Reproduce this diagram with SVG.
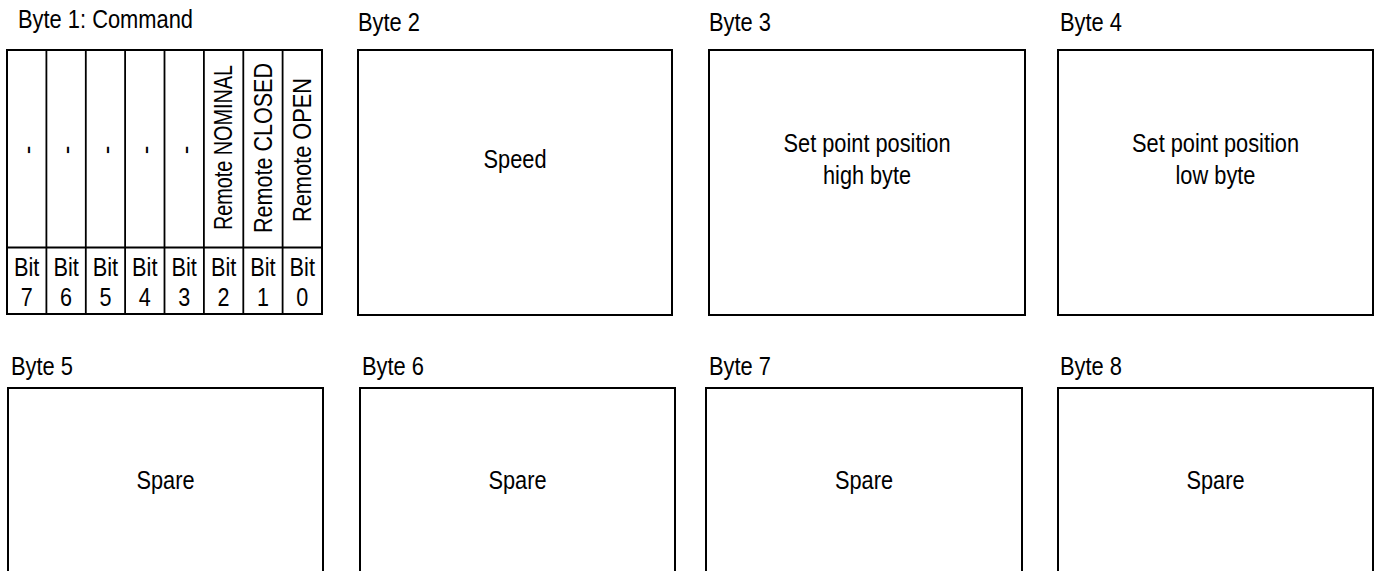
<svg xmlns="http://www.w3.org/2000/svg" width="1375" height="571" viewBox="0 0 1375 571">
<style>
.t { font-family: "Liberation Sans", Arial, sans-serif; font-size: 25px; fill: #000; }
.b { font-size: 26px; }
.m { text-anchor: middle; }
.box { fill: #fff; stroke: #000; stroke-width: 2; }
.open { fill: none; stroke: #000; stroke-width: 2; }
.ln { stroke: #000; stroke-width: 1.8; fill: none; }
</style>
<rect x="0" y="0" width="1375" height="571" fill="#fff"/>

<g id="byte1">
  <text class="t" x="18" y="28" textLength="175" lengthAdjust="spacingAndGlyphs">Byte 1: Command</text>
  <rect class="box" x="7" y="50" width="315" height="264"/>
  <line class="ln" x1="7" y1="247.5" x2="322" y2="247.5"/>
  <line class="ln" x1="46.4" y1="50" x2="46.4" y2="314"/>
  <line class="ln" x1="85.8" y1="50" x2="85.8" y2="314"/>
  <line class="ln" x1="125.1" y1="50" x2="125.1" y2="314"/>
  <line class="ln" x1="164.5" y1="50" x2="164.5" y2="314"/>
  <line class="ln" x1="203.9" y1="50" x2="203.9" y2="314"/>
  <line class="ln" x1="243.3" y1="50" x2="243.3" y2="314"/>
  <line class="ln" x1="282.6" y1="50" x2="282.6" y2="314"/>
  <g class="t b m">
    <text transform="translate(36,150) rotate(-90)">-</text>
    <text transform="translate(75.4,150) rotate(-90)">-</text>
    <text transform="translate(114.7,150) rotate(-90)">-</text>
    <text transform="translate(154.1,150) rotate(-90)">-</text>
    <text transform="translate(193.5,150) rotate(-90)">-</text>
    <text transform="translate(232,147.5) rotate(-90)" textLength="165" lengthAdjust="spacingAndGlyphs">Remote NOMINAL</text>
    <text transform="translate(271.5,148) rotate(-90)" textLength="170" lengthAdjust="spacingAndGlyphs">Remote CLOSED</text>
    <text transform="translate(310.5,150) rotate(-90)" textLength="144" lengthAdjust="spacingAndGlyphs">Remote OPEN</text>
    <text x="26.7" y="276" textLength="25.4" lengthAdjust="spacingAndGlyphs">Bit</text>
    <text x="66.1" y="276" textLength="25.4" lengthAdjust="spacingAndGlyphs">Bit</text>
    <text x="105.4" y="276" textLength="25.4" lengthAdjust="spacingAndGlyphs">Bit</text>
    <text x="144.8" y="276" textLength="25.4" lengthAdjust="spacingAndGlyphs">Bit</text>
    <text x="184.2" y="276" textLength="25.4" lengthAdjust="spacingAndGlyphs">Bit</text>
    <text x="223.6" y="276" textLength="25.4" lengthAdjust="spacingAndGlyphs">Bit</text>
    <text x="262.9" y="276" textLength="25.4" lengthAdjust="spacingAndGlyphs">Bit</text>
    <text x="302.3" y="276" textLength="25.4" lengthAdjust="spacingAndGlyphs">Bit</text>
    <text x="26.7" y="306" textLength="12" lengthAdjust="spacingAndGlyphs">7</text>
    <text x="66.1" y="306" textLength="12" lengthAdjust="spacingAndGlyphs">6</text>
    <text x="105.4" y="306" textLength="12" lengthAdjust="spacingAndGlyphs">5</text>
    <text x="144.8" y="306" textLength="12" lengthAdjust="spacingAndGlyphs">4</text>
    <text x="184.2" y="306" textLength="12" lengthAdjust="spacingAndGlyphs">3</text>
    <text x="223.6" y="306" textLength="12" lengthAdjust="spacingAndGlyphs">2</text>
    <text x="262.9" y="306" textLength="12" lengthAdjust="spacingAndGlyphs">1</text>
    <text x="302.3" y="306" textLength="12" lengthAdjust="spacingAndGlyphs">0</text>
  </g>
</g>

<g id="byte2">
  <text class="t" x="358" y="31" textLength="62" lengthAdjust="spacingAndGlyphs">Byte 2</text>
  <rect class="box" x="358" y="50" width="314" height="265"/>
  <text class="t m" x="515" y="168" textLength="63" lengthAdjust="spacingAndGlyphs">Speed</text>
</g>

<g id="byte3">
  <text class="t" x="709" y="31" textLength="62" lengthAdjust="spacingAndGlyphs">Byte 3</text>
  <rect class="box" x="709" y="50" width="316" height="265"/>
  <text class="t m" x="867" y="152" textLength="167" lengthAdjust="spacingAndGlyphs">Set point position</text>
  <text class="t m" x="867" y="184" textLength="88" lengthAdjust="spacingAndGlyphs">high byte</text>
</g>

<g id="byte4">
  <text class="t" x="1060" y="31" textLength="62" lengthAdjust="spacingAndGlyphs">Byte 4</text>
  <rect class="box" x="1058" y="50" width="315" height="265"/>
  <text class="t m" x="1215.5" y="152" textLength="167" lengthAdjust="spacingAndGlyphs">Set point position</text>
  <text class="t m" x="1215.5" y="184" textLength="80" lengthAdjust="spacingAndGlyphs">low byte</text>
</g>

<g id="byte5">
  <text class="t" x="11" y="375" textLength="62" lengthAdjust="spacingAndGlyphs">Byte 5</text>
  <path class="open" d="M8,572 V388 H323 V572"/>
  <text class="t m" x="165.5" y="489" textLength="58" lengthAdjust="spacingAndGlyphs">Spare</text>
</g>

<g id="byte6">
  <text class="t" x="362" y="375" textLength="62" lengthAdjust="spacingAndGlyphs">Byte 6</text>
  <path class="open" d="M360,572 V388 H675 V572"/>
  <text class="t m" x="517.5" y="489" textLength="58" lengthAdjust="spacingAndGlyphs">Spare</text>
</g>

<g id="byte7">
  <text class="t" x="709" y="375" textLength="62" lengthAdjust="spacingAndGlyphs">Byte 7</text>
  <path class="open" d="M706,572 V388 H1022 V572"/>
  <text class="t m" x="864" y="489" textLength="58" lengthAdjust="spacingAndGlyphs">Spare</text>
</g>

<g id="byte8">
  <text class="t" x="1060" y="375" textLength="62" lengthAdjust="spacingAndGlyphs">Byte 8</text>
  <path class="open" d="M1058,572 V388 H1373 V572"/>
  <text class="t m" x="1215.5" y="489" textLength="58" lengthAdjust="spacingAndGlyphs">Spare</text>
</g>
</svg>
